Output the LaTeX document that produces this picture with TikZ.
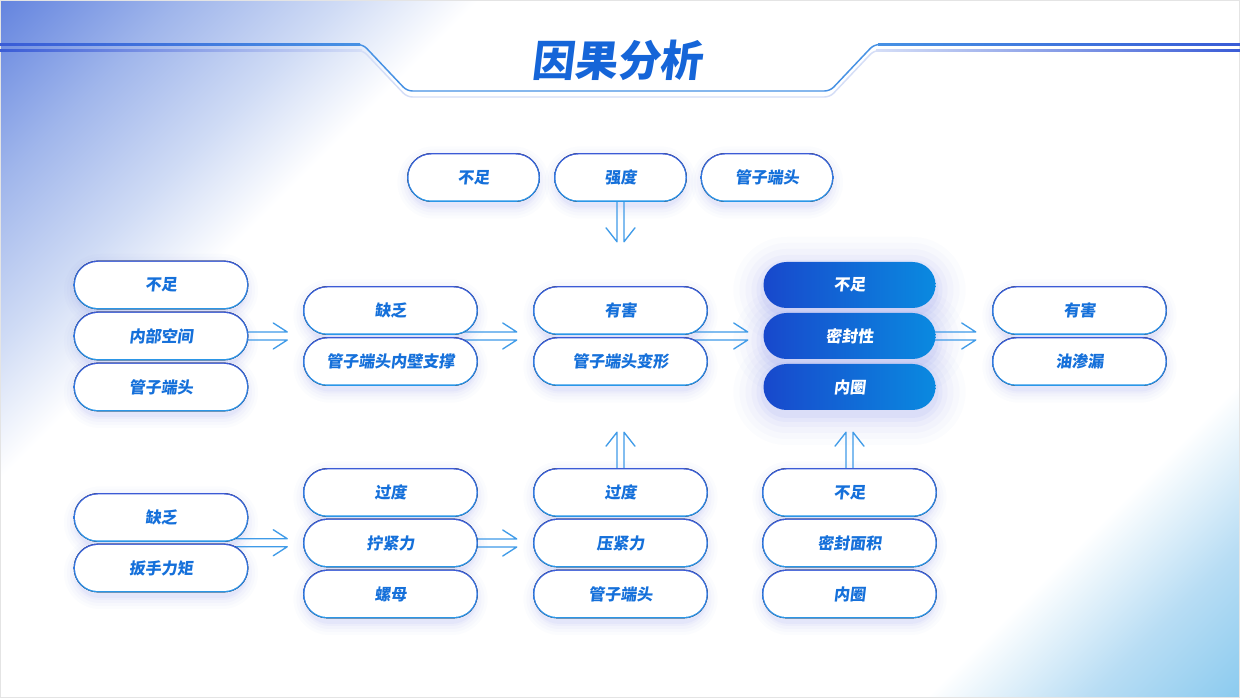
\documentclass[tikz,border=0pt]{standalone}
\usepackage{fontspec}
\newfontfamily\cjk{Noto Sans CJK SC}[FakeSlant=0.12]
\usetikzlibrary{calc}
\pgfdeclarelayer{bgL}\pgfdeclarelayer{glowL}\pgfdeclarelayer{arrL}\pgfdeclarelayer{bordL}
\pgfsetlayers{bgL,glowL,arrL,bordL,main}
\definecolor{bgTL}{HTML}{6585DF}
\definecolor{bgA}{HTML}{9FB5EB}
\definecolor{bgB}{HTML}{CFDBF5}
\definecolor{bgC}{HTML}{B8DDF4}
\definecolor{bgBR}{HTML}{8CCBEF}
\definecolor{glowc}{HTML}{5B6EE8}
\definecolor{bordT}{HTML}{3C5BD6}
\definecolor{bordB}{HTML}{2A98E8}
\definecolor{boxtxt}{HTML}{1570DA}
\definecolor{darkL}{HTML}{1848CC}
\definecolor{darkR}{HTML}{0A8AE0}
\definecolor{arrc}{HTML}{3F9BE8}
\definecolor{titlec}{HTML}{1565D8}
\definecolor{linec}{HTML}{4691E4}
\definecolor{lined}{HTML}{3A5CD6}
\definecolor{linep}{HTML}{D5DEF7}
\definecolor{framec}{HTML}{E4E4E4}
\pgfdeclarehorizontalshading{bgsh}{100bp}{color(0bp)=(bgTL); color(14.6bp)=(bgTL); color(21bp)=(bgA); color(27bp)=(bgB); color(32bp)=(white); color(74bp)=(white); color(80bp)=(bgC); color(85.4bp)=(bgBR); color(100bp)=(bgBR)}
\tikzset{
  boxfont/.style={font=\cjk\bfseries\fontsize{12}{14}\selectfont},
  wb/.style={boxfont, text=boxtxt, fill=white, draw=none, inner sep=0pt,
    minimum height=34.5pt, rounded corners=17.25pt},
  db/.style={boxfont, text=white, left color=darkL, right color=darkR, draw=none,
    inner sep=0pt, minimum height=34.5pt, minimum width=129pt, rounded corners=17.25pt},
  arrl/.style={draw=arrc, line width=1pt, line cap=round, line join=round},
  titlestyle/.style={font=\cjk\bfseries\fontsize{32}{36}\selectfont, text=titlec, inner sep=0pt}
}
% white box: name, x, y, width(px), text
\newcommand\wbox[5]{%
  \begin{pgfonlayer}{glowL}
    \foreach \d/\o in {13/0.02,10/0.025,7/0.03,4/0.04,2/0.05}{%
      \pgfmathsetmacro\rr{(23+\d)*0.75}%
      \fill[glowc, fill opacity=\o, rounded corners=\rr pt]
        ($(#2,#3)+(-#4/2-\d+2,-23-\d+5)$) rectangle ($(#2,#3)+(#4/2+\d-2,23+\d+5)$);}
  \end{pgfonlayer}
  \begin{pgfonlayer}{bordL}
    \fill[top color=bordT, bottom color=bordB, rounded corners=18.3pt]
      ($(#2,#3)+(-#4/2-1.4,-24.4)$) rectangle ($(#2,#3)+(#4/2+1.4,24.4)$);
  \end{pgfonlayer}
  \node[wb, minimum width=#4*0.75pt] (#1) at (#2,#3) {#5};}
% dark box: name, x, y, text
\newcommand\dbox[4]{%
  \begin{pgfonlayer}{glowL}
    \foreach \d/\o in {30/0.02,24/0.025,18/0.03,12/0.04,7/0.05,3/0.06}{%
      \pgfmathsetmacro\rr{(23+\d)*0.75}%
      \fill[glowc, fill opacity=\o, rounded corners=\rr pt]
        ($(#2,#3)+(-86-\d,-23-\d+5)$) rectangle ($(#2,#3)+(86+\d,23+\d+5)$);}
  \end{pgfonlayer}
  \node[db] (#1) at (#2,#3) {#4};}
\newcommand\harr[2]{%
  \draw[arrl] ($(#1)+(-12,-4)$) -- ($(#2)+(0,-4)$) -- ++(-14,-9);
  \draw[arrl] ($(#1)+(-12,4)$) -- ($(#2)+(0,4)$) -- ++(-14,9);}
\newcommand\varrdown[2]{%
  \draw[arrl] ($(#1)+(-3.5,-10)$) -- ($(#2)+(-3.5,0)$) -- ++(-11,-14);
  \draw[arrl] ($(#1)+(3.5,-10)$) -- ($(#2)+(3.5,0)$) -- ++(11,-14);}
\newcommand\varrup[2]{%
  \draw[arrl] ($(#1)+(-3.5,10)$) -- ($(#2)+(-3.5,0)$) -- ++(-11,14);
  \draw[arrl] ($(#1)+(3.5,10)$) -- ($(#2)+(3.5,0)$) -- ++(11,14);}
\begin{document}
\begin{tikzpicture}[x=0.75pt,y=-0.75pt]
\useasboundingbox (0,0) rectangle (1240,698);
\begin{pgfonlayer}{bgL}
  \fill[shading=bgsh, shading angle=-45] (0,0) rectangle (1240,698);
  \draw[framec, line width=2pt] (0,0) rectangle (1240,698);
  % title frame lines
  \draw[linep, line width=1.1pt, rounded corners=4pt] (0,50.5) -- (363,50.5) -- (407,97) -- (830,97) -- (874,50.5) -- (1240,50.5);
  \fill[left color=lined, right color=linep] (0,49.9) rectangle (362,51.1);
  \fill[left color=linep, right color=lined] (876,49.9) rectangle (1240,51.1);
  \draw[linec, line width=1.1pt, rounded corners=4pt] (0,44.5) -- (363,44.5) -- (407,91) -- (830,91) -- (874,44.5) -- (1240,44.5);
  \fill[left color=lined, right color=linec] (0,43.9) rectangle (360,45.1);
  \fill[left color=linec, right color=lined] (878,43.9) rectangle (1240,45.1);
\end{pgfonlayer}
\node[titlestyle] (title) at (617,60) {因果分析};
% top row
\wbox{t1}{473.5}{177.5}{130}{不足}
\wbox{t2}{620.5}{177.5}{130}{强度}
\wbox{t3}{767}{177.5}{130}{管子端头}
% column 1
\wbox{a11}{161}{285}{172}{不足}
\wbox{a12}{161}{336}{172}{内部空间}
\wbox{a13}{161}{387}{172}{管子端头}
% column 2
\wbox{a21}{390.5}{310.5}{172}{缺乏}
\wbox{a22}{390.5}{361.5}{172}{管子端头内壁支撑}
% column 3
\wbox{a31}{620.5}{310.5}{172}{有害}
\wbox{a32}{620.5}{361.5}{172}{管子端头变形}
% column 4 (highlight)
\dbox{a41}{849.5}{285}{不足}
\dbox{a42}{849.5}{336}{密封性}
\dbox{a43}{849.5}{387}{内圈}
% column 5
\wbox{a51}{1079.5}{310.5}{172}{有害}
\wbox{a52}{1079.5}{361.5}{172}{油渗漏}
% bottom rows
\wbox{b11}{161}{517.5}{172}{缺乏}
\wbox{b12}{161}{568}{172}{扳手力矩}
\wbox{b21}{390.5}{492.5}{172}{过度}
\wbox{b22}{390.5}{543}{172}{拧紧力}
\wbox{b23}{390.5}{594}{172}{螺母}
\wbox{b31}{620.5}{492.5}{172}{过度}
\wbox{b32}{620.5}{543}{172}{压紧力}
\wbox{b33}{620.5}{594}{172}{管子端头}
\wbox{b41}{849.5}{492.5}{172}{不足}
\wbox{b42}{849.5}{543}{172}{密封面积}
\wbox{b43}{849.5}{594}{172}{内圈}
% connectors
\coordinate (m2) at ($(a21.east)!0.5!(a22.east)$);
\coordinate (m3) at ($(a31.east)!0.5!(a32.east)$);
\coordinate (mb1) at ($(b11.east)!0.5!(b12.east)$);
\coordinate (p1) at ($(a12.east)+(40,0)$);
\coordinate (p2) at ($(m2)+(40,0)$);
\coordinate (p3) at ($(m3)+(41,0)$);
\coordinate (p4) at ($(a42.east)+(40,0)$);
\coordinate (q1) at ($(mb1)+(40,0)$);
\coordinate (q2) at ($(b22.east)+(40,0)$);
\coordinate (v1) at ($(t2.south)+(0,41)$);
\coordinate (v2) at ($(b31.north)+(0,-37)$);
\coordinate (v3) at ($(b41.north)+(0,-37)$);
\begin{pgfonlayer}{arrL}
  \harr{a12.east}{p1}
  \harr{m2}{p2}
  \harr{m3}{p3}
  \harr{a42.east}{p4}
  \harr{mb1}{q1}
  \harr{b22.east}{q2}
  \varrdown{t2.south}{v1}
  \varrup{b31.north}{v2}
  \varrup{b41.north}{v3}
\end{pgfonlayer}
\end{tikzpicture}
\end{document}
